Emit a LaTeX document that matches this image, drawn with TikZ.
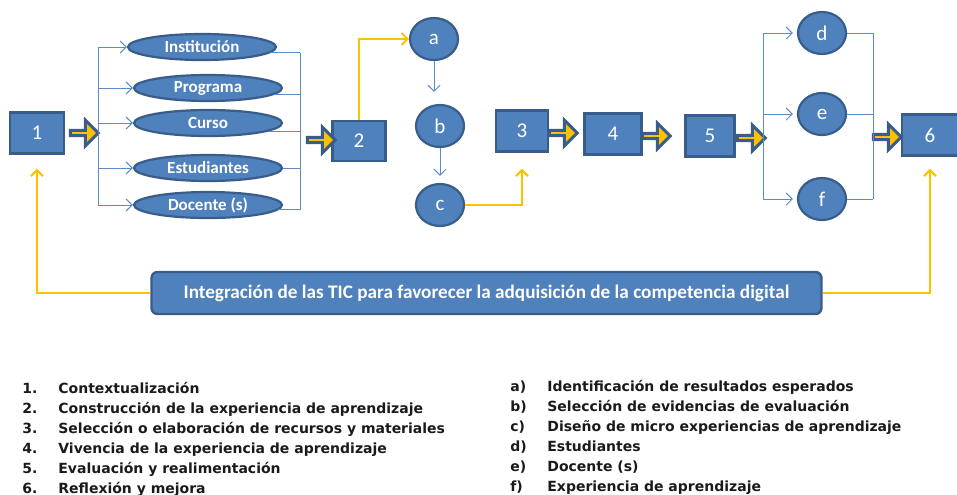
\documentclass[tikz,border=0pt]{standalone}
\usepackage{fontspec}
\setmainfont{Carlito}
\newfontfamily\listfont{DejaVu Sans}
\usetikzlibrary{arrows.meta, shapes, positioning}
\definecolor{boxblue}{HTML}{4F81BD}
\definecolor{boxedge}{HTML}{385D8A}
\definecolor{linkblue}{HTML}{5B8BC9}
\definecolor{tipyellow}{HTML}{FFC000}
\definecolor{listgray}{HTML}{1A1A1A}

\tikzset{
  stepbox/.style={rectangle, fill=boxblue, draw=boxedge, line width=1.2pt,
    minimum width=27pt, minimum height=20.5pt, text=white,
    font=\fontsize{10.5}{12}\selectfont},
  topic/.style={ellipse, fill=boxblue, draw=boxedge, line width=1.1pt,
    minimum width=74pt, minimum height=13pt, inner sep=0pt, text=white,
    font=\bfseries\fontsize{8.5}{10}\selectfont},
  phase/.style={ellipse, fill=boxblue, draw=boxedge, line width=1.1pt,
    minimum width=24pt, minimum height=21pt, inner sep=0pt, text=white,
    font=\fontsize{10.5}{12}\selectfont},
  fatarrow/.style={single arrow, fill=tipyellow, draw=boxedge, line width=1.5pt,
    minimum height=14pt, minimum width=13pt, single arrow head extend=3pt,
    inner sep=0pt},
  banner/.style={rectangle, rounded corners=3pt, fill=boxblue, draw=boxedge,
    line width=1.2pt, minimum width=335pt, minimum height=21pt, text=white,
    font=\bfseries\fontsize{9.6}{11}\selectfont},
  bluelink/.style={draw=linkblue, line width=0.5pt},
  yellink/.style={draw=tipyellow, line width=1pt},
}

\begin{document}
\begin{tikzpicture}[x=0.5pt, y=-0.5pt]
\useasboundingbox (0,0) rectangle (957,494);

% main steps
\node[stepbox] (s1) at (37,133) {1};
\node[stepbox, minimum width=26.5pt, minimum height=20pt] (s2) at (359,141) {2};
\node[stepbox, minimum width=26pt] (s3) at (522,131) {3};
\node[stepbox, minimum width=28.5pt] (s4) at (613,134) {4};
\node[stepbox, minimum width=24.5pt] (s5) at (710,136) {5};
\node[stepbox, minimum width=28pt] (s6) at (930,135) {6};

\node[fatarrow] (f1) at (83,133) {};
\node[fatarrow] (f2) at (320,140) {};
\node[fatarrow] (f3) at (562,133) {};
\node[fatarrow] (f4) at (655,136) {};
\node[fatarrow] (f5) at (750,138) {};
\node[fatarrow] (f6) at (886,137) {};

% context topics
\node[topic] (inst) at (202,47) {Institución};
\node[topic] (prog) at (208,88) {Programa};
\node[topic] (cur) at (208,123) {Curso};
\node[topic] (est) at (208,168) {Estudiantes};
\node[topic] (doc) at (208,205) {Docente (s)};

% sub phases
\node[phase] (pa) at (434,39) {a};
\node[phase] (pb) at (440,126) {b};
\node[phase] (pc) at (440,205) {c};
\node[phase] (pd) at (822,33) {d};
\node[phase] (pe) at (822,114) {e};
\node[phase] (pf) at (822,199) {f};

\node[banner] (ban) at (486.5,293) {Integración de las TIC para favorecer la adquisición de la competencia digital};

\coordinate (busL) at (98,133);
\coordinate (busM) at (300,133);
\coordinate (busD) at (763,136);
\coordinate (busE) at (873,137);

\begin{scope}[>={Straight Barb[length=3pt,width=6pt]}]
    \draw[bluelink] (busL |- inst) -- (busL |- doc);
    \foreach \n in {inst,prog,cur,est,doc}
        \draw[bluelink, ->] (busL |- \n) -- (\n);
    \foreach \n/\a in {inst/-5,prog/-6,cur/-8,est/0,doc/-4}
        \draw[bluelink] (\n.\a) -- (\n.\a -| busM);
    \draw[bluelink] (busM |- inst.-5) -- (busM |- doc.-4);

    \draw[bluelink, ->, shorten >=6pt] (pa) -- (pa |- pb.north);
    \draw[bluelink, ->, shorten >=3.5pt] (pb) -- (pb |- pc.north);

    \draw[bluelink] (busD |- pd) -- (busD |- pf);
    \foreach \n in {pd,pe,pf}
        \draw[bluelink, ->, shorten >=2pt] (busD |- \n) -- (\n);
    \foreach \n in {pd,pe,pf}
        \draw[bluelink] (\n) -- (\n -| busE);
    \draw[bluelink] (busE |- pd) -- (busE |- pf);

    \draw[yellink, ->] (s2.north) |- (pa);
    \draw[yellink, ->, shorten >=8pt] (pc) -| (s3.south);
    \draw[yellink, ->, shorten >=7pt] (ban) -| (s1.south);
    \draw[yellink, ->, shorten >=6pt] (ban) -| (s6.south);
\end{scope}

% legends
\begin{scope}[every node/.style={anchor=base west, inner sep=0pt, text=listgray,
              font=\listfont\bfseries\fontsize{7}{8}\selectfont}]
    \foreach \k/\t [count=\i] in {1./Contextualización,
        2./Construcción de la experiencia de aprendizaje,
        3./Selección o elaboración de recursos y materiales,
        4./Vivencia de la experiencia de aprendizaje,
        5./Evaluación y realimentación,
        6./Reflexión y mejora} {
        \node (n\i) at (22,373+20*\i) {\k};
        \node (t\i) at (58,373+20*\i) {\t};
    }
    \foreach \k/\t [count=\i] in {a)/Identificación de resultados esperados,
        b)/Selección de evidencias de evaluación,
        c)/Diseño de micro experiencias de aprendizaje,
        d)/Estudiantes,
        e)/Docente (s),
        f)/Experiencia de aprendizaje} {
        \node (l\i) at (510,371+20*\i) {\k};
        \node (u\i) at (547,371+20*\i) {\t};
    }
\end{scope}
\end{tikzpicture}
\end{document}
